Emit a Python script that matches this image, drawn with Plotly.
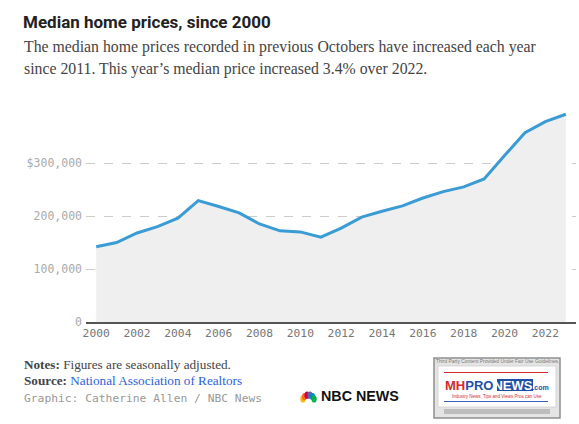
import plotly.graph_objects as go
import math

years = list(range(2000, 2024))
prices = [142000, 150000, 168000, 180000, 196000, 229000, 218000, 206000, 185000, 172000,
          170000, 160000, 177000, 198000, 209000, 219000, 234000, 246000, 255000, 270000,
          314000, 357000, 378000, 392000]
x_ticks = list(range(2000, 2023, 2))
y_ticks = [0, 100000, 200000, 300000]
y_tick_labels = ["0", "100,000", "200,000", "$300,000"]

W_PX, H_PX = 579, 424
L, R, T, B = 86, 576, 110, 322
PW, PH = R - L, B - T

def px(x):
    return (x - L) / PW

def py(y):
    return (B - y) / PH

fig = go.Figure()
fig.add_trace(go.Scatter(
    x=years, y=prices, mode="lines",
    line=dict(color="#3a9bd5", width=3),
    fill="tozeroy", fillcolor="#efefef",
    hoverinfo="skip", showlegend=False,
))

mono = "DejaVu Sans Mono"
serif = "Liberation Serif"

fig.update_layout(
    width=W_PX, height=H_PX,
    margin=dict(l=L, r=W_PX - R, t=T, b=H_PX - B, autoexpand=False),
    paper_bgcolor="white", plot_bgcolor="white",
    xaxis=dict(range=[1999.5, 2023.5], tickvals=x_ticks, showgrid=False,
               showline=True, linecolor="#555555", linewidth=1.5, zeroline=False,
               ticks="", tickfont=dict(family=mono, size=11.3, color="#777777")),
    yaxis=dict(range=[0, 400000], tickvals=y_ticks, ticktext=y_tick_labels,
               showgrid=True, gridcolor="#cccccc", griddash="dash", gridwidth=1,
               zeroline=False, showline=False, ticks="", ticklabelstandoff=3,
               tickfont=dict(family=mono, size=11.5, color="#aaaaaa")),
)

ann = []
ann.append(dict(text="<b>Median home prices, since 2000</b>", x=px(21), y=py(22),
                font=dict(family="Roboto", size=17, color="#222222")))
ann.append(dict(text="The median home prices recorded in previous Octobers have increased each year",
                x=px(22), y=py(47), font=dict(family=serif, size=15.8, color="#444444")))
ann.append(dict(text="since 2011. This year\u2019s median price increased 3.4% over 2022.",
                x=px(22), y=py(69), font=dict(family=serif, size=15.8, color="#444444")))
ann.append(dict(text="<b>Notes:</b> Figures are seasonally adjusted.",
                x=px(22), y=py(364), font=dict(family=serif, size=13.2, color="#444444")))
ann.append(dict(text="<b>Source:</b> <span style='color:#2a62d8'>National Association of Realtors</span>",
                x=px(22), y=py(380), font=dict(family=serif, size=13.2, color="#444444")))
ann.append(dict(text="Graphic: Catherine Allen / NBC News",
                x=px(22), y=py(398), font=dict(family=mono, size=11.3, color="#999999")))
# NBC News logo text
ann.append(dict(text="<b>NBC NEWS</b>", x=px(319), y=py(396),
                font=dict(family="Liberation Sans, Arial", size=14.3, color="#111111")))
# MHProNews badge texts
ann.append(dict(text="Third Party Content Provided Under Fair Use Guidelines.", x=px(497), y=py(361.5),
                xanchor="center", font=dict(family="Liberation Sans", size=4.9, color="#777777")))
ann.append(dict(text="<b><span style='color:#d42a2a'>MH</span><span style='color:#1f4fa8'>PRO</span>"
                     "<span style='color:white'>NEWS</span><span style='color:#1f4fa8;font-size:7px'>.com</span></b>",
                x=px(497), y=py(385), xanchor="center",
                font=dict(family="Liberation Sans", size=13, color="#1f4fa8")))
ann.append(dict(text="Industry News, Tips and Views Pros can Use", x=px(497), y=py(396.5),
                xanchor="center", font=dict(family="Liberation Sans", size=4.5, color="#d42a2a")))

for a in ann:
    a.setdefault("xanchor", "left")
    a.update(xref="paper", yref="paper", yanchor="middle", showarrow=False)
fig.update_layout(annotations=ann)

def rect(x0, x1, y0, y1, fill, line_color=None, lw=0):
    return dict(type="path", xref="paper", yref="paper",
                path=f"M {px(x0)} {py(y0)} L {px(x1)} {py(y0)} L {px(x1)} {py(y1)} L {px(x0)} {py(y1)} Z",
                fillcolor=fill, line=dict(color=line_color or fill, width=lw))

shapes = []
# badge frame
shapes.append(rect(434, 560, 358, 418, "#e4e4e4", "#8f8f8f", 1.5))
shapes.append(rect(438, 556, 366, 407, "#ffffff", "#cfcfcf", 0.8))
shapes.append(rect(444, 550, 409, 414, "#bdbdbd"))
shapes.append(dict(type="line", xref="paper", yref="paper",
                   x0=px(444), x1=px(548), y0=py(372.5), y1=py(372.5),
                   line=dict(color="#d42a2a", width=1.2)))
shapes.append(dict(type="line", xref="paper", yref="paper",
                   x0=px(444), x1=px(548), y0=py(401.5), y1=py(401.5),
                   line=dict(color="#3a5fbf", width=1.2)))
shapes.append(rect(497, 533, 379, 391, "#1f4fa8"))
# peacock feathers
feather_colors = ["#fcb711", "#f37021", "#cc004c", "#6460aa", "#0089d0", "#0db14b"]
cx, cy = 308.5, 401
for i, c in enumerate(feather_colors):
    ang = math.radians(160 - i * 28)
    ex = cx + 6 * math.cos(ang)
    ey = cy - 6 * math.sin(ang)
    shapes.append(dict(type="circle", xref="paper", yref="paper",
                       x0=px(ex - 2.6), x1=px(ex + 2.6), y0=py(ey + 3.6), y1=py(ey - 3.6),
                       fillcolor=c, line=dict(width=0)))
fig.update_layout(shapes=shapes)

fig.write_html("out.html", config={"displayModeBar": False},
               post_script="document.body.style.margin='0';")
